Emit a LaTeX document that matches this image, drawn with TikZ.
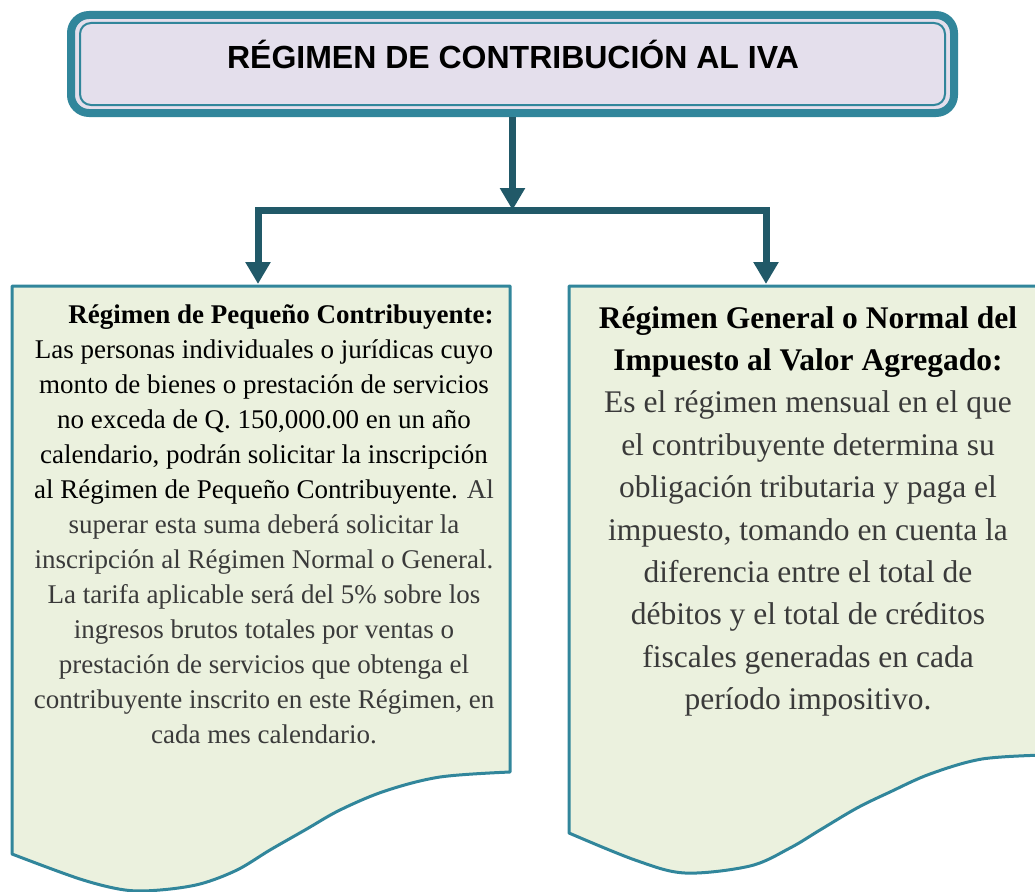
\documentclass[tikz,border=0pt]{standalone}
\usepackage{fontspec}
\setmainfont{Liberation Serif}
\newfontfamily\arialfont{Liberation Sans}
\usetikzlibrary{arrows.meta,calc}
\definecolor{tealline}{RGB}{49,134,155}
\definecolor{darkteal}{RGB}{33,89,104}
\definecolor{lav}{RGB}{228,223,236}
\definecolor{pale}{RGB}{235,241,222}
\definecolor{bodygray}{RGB}{58,58,58}
\begin{document}
\begin{tikzpicture}[x=1pt,y=-1pt,
  topbox/.style={draw=tealline, line width=8pt, fill=lav, rounded corners=18pt,
    minimum width=883pt, minimum height=98pt, inner sep=0pt},
  innerline/.style={draw=tealline, line width=2pt, rounded corners=11pt},
  docbox/.style={draw=tealline, line width=3pt, fill=pale, line join=round},
  conn/.style={draw=darkteal, line width=7pt, line join=miter,
    -{Triangle[width=24pt,length=22pt]}},
  titletext/.style={font=\arialfont\bfseries\fontsize{32}{36}\selectfont, anchor=base, inner sep=0pt},
  lefttext/.style={align=center, font=\fontsize{27}{35}\selectfont, anchor=north, inner sep=0pt, text=bodygray},
  righttext/.style={align=center, font=\fontsize{31.5}{42.4}\selectfont, anchor=north, inner sep=0pt, text=bodygray}
]
\useasboundingbox (0,0) rectangle (1035,891);
\clip (0,0) rectangle (1035,891);

% top box
\node[topbox] (top) at (512.5,64) {};
\draw[innerline] ($(top.north west)+(13,12)$) rectangle ($(top.south east)+(-13,-12)$);
\node[titletext] (title) at (513,68) {RÉGIMEN DE CONTRIBUCIÓN AL IVA};

% document boxes
\draw[docbox] (12,286) -- (510,286) -- (510,772)
  -- plot[smooth, tension=0.55] coordinates {(510,772) (440,777) (385,791) (340,810) (305,830) (270,850) (237,870) (200,884) (160,890) (125,890) (80,879) (12,854)}
  -- cycle;
\draw[docbox] (1045,286) -- (569,286) -- (569,833)
  -- plot[smooth, tension=0.55] coordinates {(569,833) (635,860) (685,873) (750,866) (790,848) (820,830) (857,808) (890,792) (930,774) (982,759) (1045,755)}
  -- cycle;

\coordinate (ltop) at (258,284);
\coordinate (rtop) at (766,284);
\coordinate (hub) at (512.5,210);

% connectors
\draw[conn] (top.south) -- (hub);
\draw[conn] (hub) -| (ltop);
\draw[conn] (hub) -| (rtop);

% texts
\node[lefttext] (ltxt) at (264,304) {%
\textcolor{black}{\textbf{\hspace*{34pt}Régimen de Pequeño Contribuyente:}}\\
\textcolor{black}{Las personas individuales o jurídicas cuyo}\\
\textcolor{black}{monto de bienes o prestación de servicios}\\
\textcolor{black}{no exceda de Q. 150,000.00 en un año}\\
\textcolor{black}{calendario, podrán solicitar la inscripción}\\
\textcolor{black}{al Régimen de Pequeño Contribuyente.} Al\\
superar esta suma deberá solicitar la\\
inscripción al Régimen Normal o General.\\
La tarifa aplicable será del 5\% sobre los\\
ingresos brutos totales por ventas o\\
prestación de servicios que obtenga el\\
contribuyente inscrito en este Régimen, en\\
cada mes calendario.};

\node[righttext] (rtxt) at (808,306) {%
\textcolor{black}{\textbf{Régimen General o Normal del}}\\
\textcolor{black}{\textbf{Impuesto al Valor Agregado:}}\\
Es el régimen mensual en el que\\
el contribuyente determina su\\
obligación tributaria y paga el\\
impuesto, tomando en cuenta la\\
diferencia entre el total de\\
débitos y el total de créditos\\
fiscales generadas en cada\\
período impositivo.};
\end{tikzpicture}
\end{document}
